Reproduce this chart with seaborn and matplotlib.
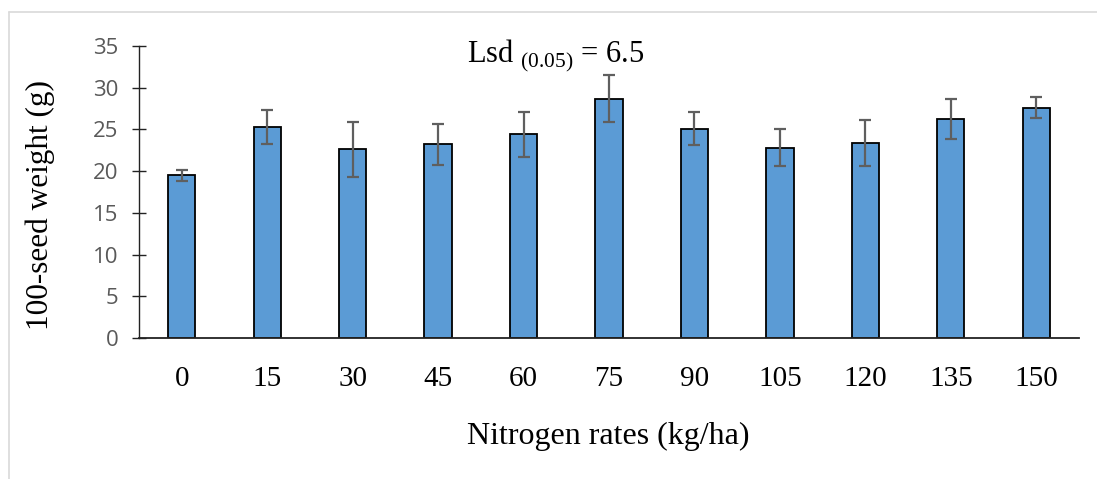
import matplotlib
matplotlib.use("Agg")
import matplotlib.pyplot as plt
import seaborn as sns
import pandas as pd
from matplotlib.lines import Line2D

# ---- data ----
nitrogen_rates = ["0", "15", "30", "45", "60", "75", "90", "105", "120", "135", "150"]
seed_weight = [19.5, 25.3, 22.6, 23.2, 24.4, 28.7, 25.1, 22.8, 23.4, 26.3, 27.6]
seed_weight_err = [0.65, 2.0, 3.35, 2.5, 2.7, 2.85, 1.95, 2.2, 2.75, 2.4, 1.25]
y_ticks = [0, 5, 10, 15, 20, 25, 30, 35]

df = pd.DataFrame({"rate": nitrogen_rates, "weight": seed_weight, "err": seed_weight_err})

sns.set_theme(style="white")
plt.rcParams["font.family"] = ["Liberation Serif", "DejaVu Serif"]
plt.rcParams["mathtext.fontset"] = "custom"
plt.rcParams["mathtext.rm"] = "Liberation Serif"

fig = plt.figure(figsize=(10.97, 4.79), dpi=100)
ax = fig.add_axes([139 / 1097, 1 - 338 / 479, 940 / 1097, 292 / 479])

sns.barplot(data=df, x="rate", y="weight", order=nitrogen_rates, color="#5B9BD5",
            saturation=1, width=0.32, edgecolor="black", linewidth=1.3,
            errorbar=None, ax=ax)
ax.errorbar(x=range(len(nitrogen_rates)), y=df["weight"], yerr=df["err"], fmt="none",
            ecolor="#5f5f5f", elinewidth=1.6, capsize=4, capthick=1.6, zorder=5)

ax.set_ylim(0, 35)
ax.set_xlim(-0.5, len(nitrogen_rates) - 0.5)
ax.set_yticks(y_ticks)

for s in ["top", "right"]:
    ax.spines[s].set_visible(False)
ax.spines["left"].set_color("#222222")
ax.spines["left"].set_linewidth(1.0)
ax.spines["bottom"].set_color("#222222")
ax.spines["bottom"].set_linewidth(1.3)

ax.tick_params(axis="y", which="major", direction="inout", length=10, width=1.0,
               color="#222222", left=True, pad=10, labelsize=16, labelcolor="#595959")
for lab in ax.get_yticklabels():
    lab.set_fontfamily(["Open Sans", "DejaVu Sans"])
ax.tick_params(axis="x", which="major", length=0, pad=20, labelsize=21, labelcolor="black")

ax.set_xlabel("Nitrogen rates (kg/ha)", fontsize=23, color="black")
ax.xaxis.label.set_va("center")
ax.xaxis.set_label_coords(0.499, (338 - 436) / 292)
ax.set_ylabel("100-seed weight (g)", fontsize=22.5, color="black")
ax.yaxis.label.set_va("center")
ax.yaxis.set_label_coords((40 - 139) / 940, (338 - 205) / 292)

ax.text((467 - 139) / 940, (338 - 62) / 292, r"Lsd $_{(0.05)}$ = 6.5", transform=ax.transAxes,
        fontsize=22, ha="left", va="baseline", color="black")

# chart frame border
fig.add_artist(Line2D([9 / 1097, 1.0], [1 - 12 / 479, 1 - 12 / 479], transform=fig.transFigure,
                      color="#d9d9d9", linewidth=1.2))
fig.add_artist(Line2D([9 / 1097, 9 / 1097], [0, 1 - 12 / 479], transform=fig.transFigure,
                      color="#d9d9d9", linewidth=1.2))

fig.savefig("out.png", dpi=100)
